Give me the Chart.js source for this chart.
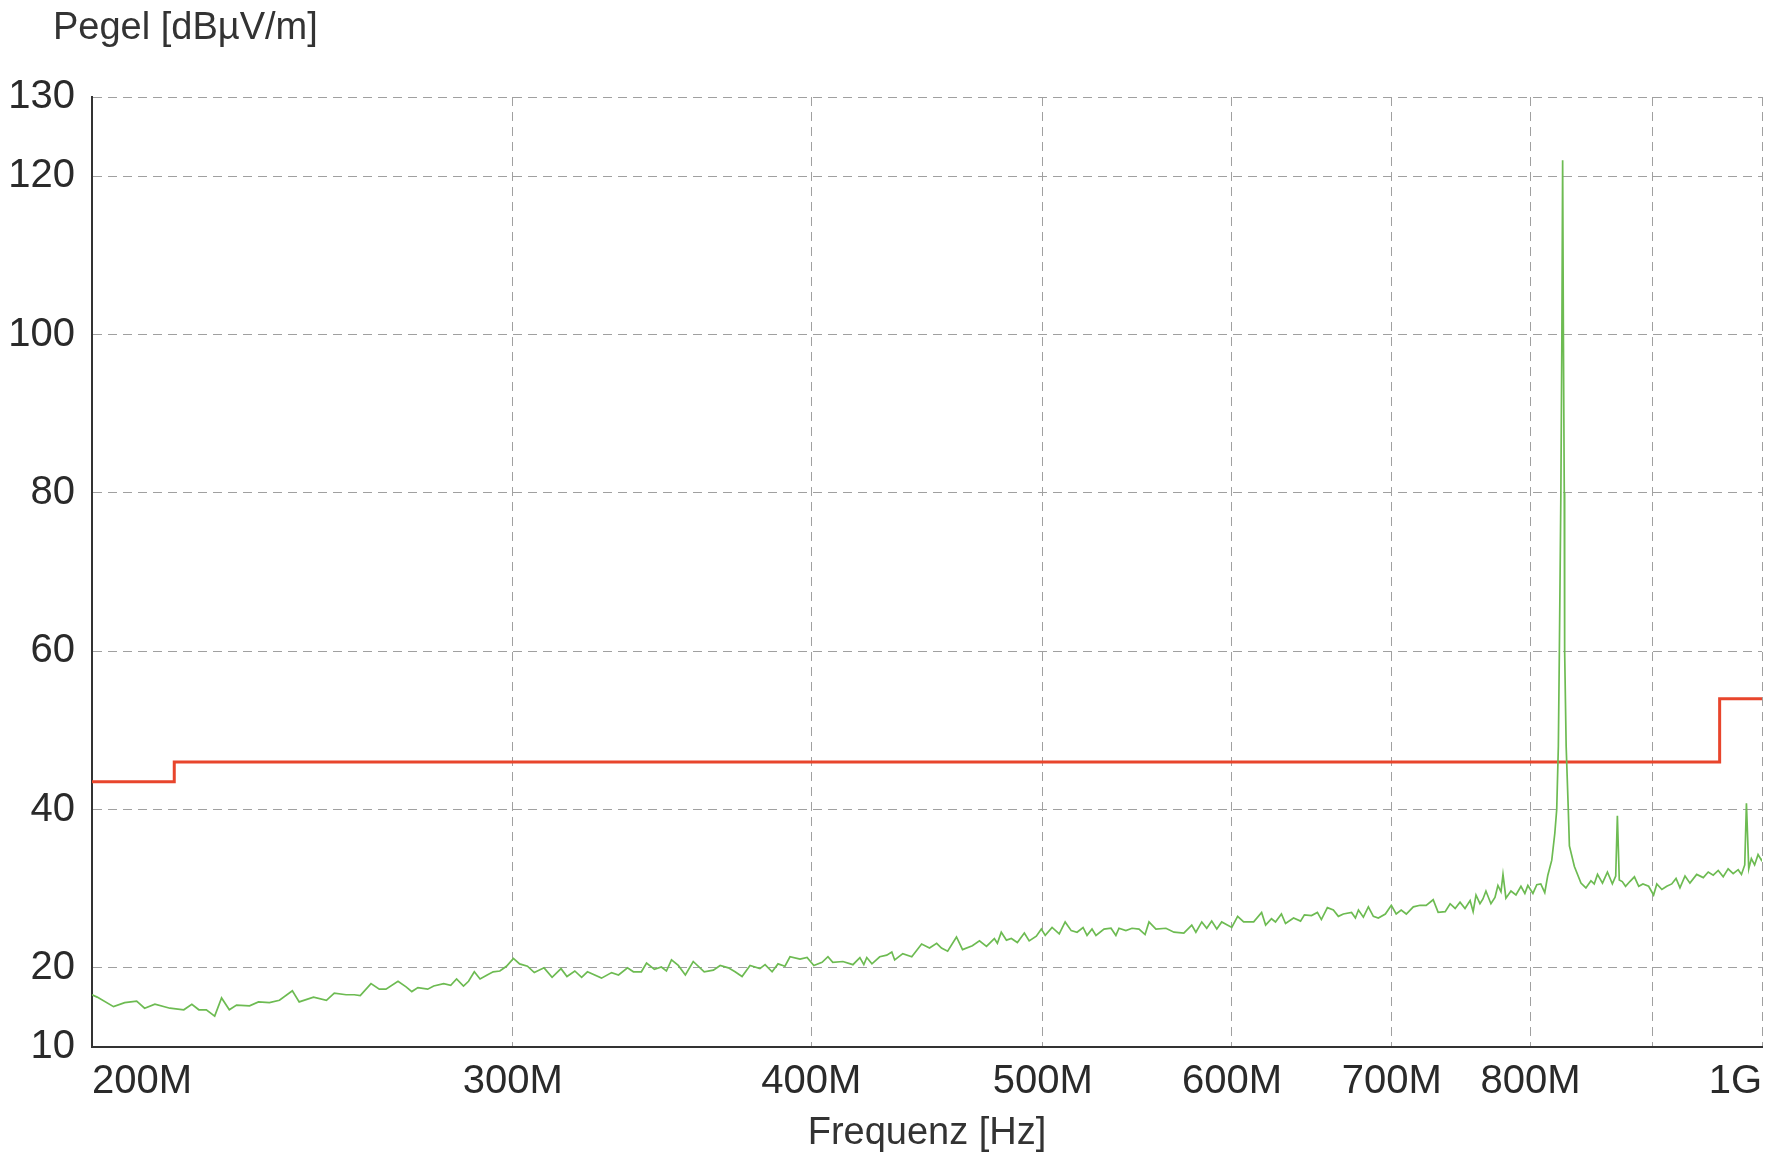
<!DOCTYPE html>
<html>
<head>
<meta charset="utf-8">
<title>Pegel</title>
<script src="https://cdn.jsdelivr.net/npm/chart.js@4.4.1/dist/chart.umd.min.js"></script>
<style>
    html, body { margin: 0; padding: 0; background: #ffffff; }
    canvas { display: block; }
</style>
</head>
<body>
<canvas id="lineChart" width="1781" height="1157"></canvas>
<script>
// measured trace, frequency in MHz
var traceFreq = [
    200, 201.0, 204.2, 206.4, 208.8, 210.4, 212.5, 215.6, 218.5, 220.2, 221.7, 223.3, 225.1, 226.6, 228.3, 229.9,
    232.8, 234.8, 237.3, 239.6, 242.6, 244.2, 247.6, 250.7, 252.6, 255.5, 257.5, 259.0, 261.7, 263.8, 265.5, 268.6,
    270.7, 272.2, 273.8, 276.4, 278.0, 280.7, 282.6, 284.2, 286.1, 287.5, 289.1, 290.7, 292.7, 294.4, 296.3, 298.2,
    300.2, 302.0, 304.3, 306.3, 309.2, 311.6, 314.3, 316.1, 318.5, 320.6, 322.4, 326.8, 330.0, 332.2, 335.1, 337.0,
    339.6, 341.3, 343.9, 346.2, 347.9, 349.6, 351.9, 354.3, 357.0, 360.8, 364.0, 366.4, 369.3, 371.7, 374.2, 377.1,
    380.7, 382.6, 385.2, 387.4, 390.0, 391.9, 395.7, 398.4, 401.0, 404.2, 406.5, 408.4, 412.4, 416.4, 419.2, 420.8,
    422.0, 424.1, 427.3, 430.2, 432.3, 433.5, 436.9, 440.7, 444.9, 448.3, 451.4, 453.5, 456.2, 460.1, 462.8, 467.2,
    470.4, 473.6, 477.2, 478.6, 480.4, 482.8, 485.1, 487.9, 491.2, 493.5, 496.9, 499.3, 501.2, 504.5, 508.0, 510.9,
    513.9, 516.8, 519.8, 521.8, 524.3, 526.3, 530.4, 534.0, 536.5, 538.1, 541.7, 544.9, 548.6, 551.8, 553.9, 557.6,
    563.0, 567.4, 572.8, 577.2, 579.5, 582.8, 585.6, 588.4, 591.3, 594.1, 599.9, 603.3, 606.8, 612.7, 617.4, 619.8,
    623.3, 625.7, 629.3, 631.8, 636.7, 641.0, 643.4, 647.8, 651.5, 654.0, 657.8, 661.6, 664.8, 668.0, 673.3, 675.8,
    677.8, 681.0, 684.3, 687.6, 690.9, 695.6, 699.6, 702.9, 706.3, 709.8, 714.6, 719.3, 723.5, 728.4, 731.9, 736.9,
    740.4, 744.0, 747.5, 751.1, 754.8, 757.0, 759.1, 762.0, 764.2, 766.4, 770.1, 773.1, 775.3, 777.6, 779.1, 781.3,
    785.1, 788.9, 792.7, 795.7, 798.0, 801.9, 804.9, 808.0, 811.1, 813.5, 816.6, 819.0, 820.5, 821.8, 822.6, 823.8,
    824.6, 825.2, 825.8, 826.5, 826.8, 828.0, 829.7, 830.6, 834.6, 839.9, 843.9, 848.0, 850.7, 853.4, 857.5, 861.6,
    865.7, 868.5, 869.9, 871.5, 874.0, 876.8, 880.4, 884.3, 888.0, 891.6, 896.5, 900.8, 903.6, 908.0, 912.3, 916.7,
    920.5, 924.0, 928.5, 932.9, 939.0, 945.0, 949.5, 954.1, 958.7, 963.3, 967.9, 972.6, 977.3, 980.4, 983.5, 985.1,
    987.3, 989.8, 992.9, 996.2, 999.4, 1000
];

// level in dBuV/m
var traceLevel = [
    16.6, 16.3, 15.1, 15.6, 15.8, 14.9, 15.4, 14.9, 14.7, 15.4, 14.7, 14.7, 13.9, 16.2, 14.7, 15.3,
    15.2, 15.7, 15.6, 15.9, 17.1, 15.7, 16.3, 15.9, 16.8, 16.6, 16.6, 16.5, 18.0, 17.3, 17.3, 18.3,
    17.6, 17.0, 17.5, 17.3, 17.7, 18.0, 17.8, 18.6, 17.7, 18.3, 19.5, 18.6, 19.1, 19.5, 19.6, 20.2,
    21.2, 20.5, 20.2, 19.4, 20.0, 18.8, 19.9, 18.9, 19.6, 18.8, 19.5, 18.7, 19.4, 19.1, 20.0, 19.5,
    19.5, 20.6, 19.8, 20.1, 19.6, 21.0, 20.3, 19.1, 20.8, 19.5, 19.7, 20.3, 20.0, 19.5, 18.9, 20.3,
    19.9, 20.4, 19.5, 20.5, 20.2, 21.4, 21.1, 21.3, 20.3, 20.7, 21.4, 20.7, 20.8, 20.4, 21.3, 20.4,
    21.3, 20.5, 21.4, 21.6, 22.0, 21.0, 21.8, 21.4, 23.0, 22.5, 23.1, 22.5, 22.1, 23.9, 22.3, 22.8,
    23.4, 22.7, 23.7, 23.1, 24.5, 23.5, 23.7, 23.2, 24.4, 23.4, 24.0, 24.9, 24.1, 25.1, 24.3, 25.8,
    24.7, 24.5, 25.1, 24.1, 24.9, 24.1, 24.9, 25.0, 24.1, 25.0, 24.7, 25.0, 24.9, 24.2, 25.8, 24.9,
    25.0, 24.5, 24.4, 25.4, 24.5, 25.8, 25.0, 25.9, 24.9, 25.8, 25.1, 26.5, 25.8, 25.8, 27.0, 25.4,
    26.2, 25.8, 26.8, 25.6, 26.3, 25.9, 26.7, 26.6, 27.0, 26.1, 27.6, 27.3, 26.5, 26.8, 27.0, 26.3,
    27.3, 26.4, 27.7, 26.5, 26.3, 26.8, 27.9, 26.8, 27.3, 26.8, 27.7, 27.9, 27.9, 28.6, 27.0, 27.1,
    28.1, 27.5, 28.3, 27.5, 28.5, 27.1, 29.2, 28.1, 28.7, 29.7, 28.1, 28.9, 30.4, 29.6, 31.8, 28.8,
    29.7, 29.2, 30.3, 29.4, 30.4, 29.4, 30.5, 30.6, 29.5, 31.7, 33.6, 37.0, 40.0, 48.0, 60.0, 80.0,
    100.0, 122.0, 100.0, 80.0, 60.0, 48.0, 40.0, 35.4, 32.8, 30.7, 30.1, 31.0, 30.6, 31.8, 30.7, 32.1,
    30.6, 31.6, 39.2, 31.1, 30.9, 30.3, 30.9, 31.5, 30.3, 30.6, 30.3, 29.2, 30.6, 29.9, 30.3, 30.6,
    31.3, 30.1, 31.6, 30.7, 31.8, 31.4, 32.1, 31.7, 32.3, 31.5, 32.5, 31.9, 32.4, 31.8, 33.0, 40.8,
    32.5, 33.8, 33.0, 34.3, 33.6, 33.8
];

// limit line
var limitFreq = [200, 216.5, 216.5, 960, 960, 1000];
var limitLevel = [43.5, 43.5, 46, 46, 54, 54];

var xTickValues = [200, 300, 400, 500, 600, 700, 800, 900, 1000];
var xTickLabels = ['200M', '300M', '400M', '500M', '600M', '700M', '800M', '', '1G'];
var yTickValues = [10, 20, 40, 60, 80, 100, 120, 130];


function ToPoints(xs, ys) {
    var pts = [];
    for (var i = 0; i < xs.length; i++) {
        pts.push({ x: xs[i], y: ys[i] });
    }
    return pts;
}

var yTitlePlugin = {
    id: 'yTitle',
    afterDraw: function (chart) {
        var ctx = chart.ctx;
        ctx.save();
        ctx.font = '38px "Liberation Sans", Arial, sans-serif';
        ctx.fillStyle = '#333333';
        ctx.textAlign = 'left';
        ctx.textBaseline = 'alphabetic';
        ctx.fillText('Pegel [dB\u00b5V/m]', 53, 39);
        ctx.restore();
    }
};

var lineData = {
    datasets: [
        {
            label: 'Messung',
            data: ToPoints(traceFreq, traceLevel),
            borderColor: '#6dbb52',
            borderWidth: 1.7,
            pointRadius: 0,
            tension: 0
        },
        {
            label: 'Grenzwert',
            data: ToPoints(limitFreq, limitLevel),
            borderColor: '#e8452c',
            borderWidth: 3,
            pointRadius: 0,
            tension: 0
        }
    ]
};

var lineOptions = {
    responsive: false,
    animation: false,
    layout: { padding: { top: 97, right: 19, left: 0, bottom: 0 } },
    plugins: {
        legend: { display: false },
        tooltip: { enabled: false }
    },
    scales: {
        x: {
            type: 'logarithmic',
            min: 200,
            max: 1000,
            afterBuildTicks: function (scale) {
                scale.ticks = xTickValues.map(function (v) { return { value: v }; });
            },
            afterFit: function (scale) { scale.height = 110; },
            ticks: {
                autoSkip: false,
                maxRotation: 0,
                align: 'inner',
                padding: 11,
                color: '#2a2a2a',
                font: { family: '"Liberation Sans", Arial, sans-serif', size: 40 },
                callback: function (value) {
                    var i = xTickValues.indexOf(value);
                    return i >= 0 ? xTickLabels[i] : '';
                }
            },
            grid: { color: '#a0a0a0', lineWidth: 1, drawTicks: false },
            border: { display: true, color: '#333333', width: 2, dash: [9, 6] },
            title: {
                display: true,
                text: 'Frequenz [Hz]',
                color: '#333333',
                font: { family: '"Liberation Sans", Arial, sans-serif', size: 38 },
                padding: { top: 0, bottom: 1 }
            }
        },
        y: {
            type: 'linear',
            min: 10,
            max: 130,
            afterBuildTicks: function (scale) {
                scale.ticks = yTickValues.map(function (v) { return { value: v }; });
            },
            afterFit: function (scale) { scale.width = 92; },
            ticks: {
                autoSkip: false,
                padding: 17,
                color: '#2a2a2a',
                font: { family: '"Liberation Sans", Arial, sans-serif', size: 40 }
            },
            grid: { color: '#a0a0a0', lineWidth: 1, drawTicks: false },
            border: { display: true, color: '#333333', width: 2, dash: [9, 6] }
        }
    }
};

var ctx = document.getElementById("lineChart").getContext("2d");
new Chart(ctx, { type: 'line', data: lineData, options: lineOptions, plugins: [yTitlePlugin] });
</script>
</body>
</html>
